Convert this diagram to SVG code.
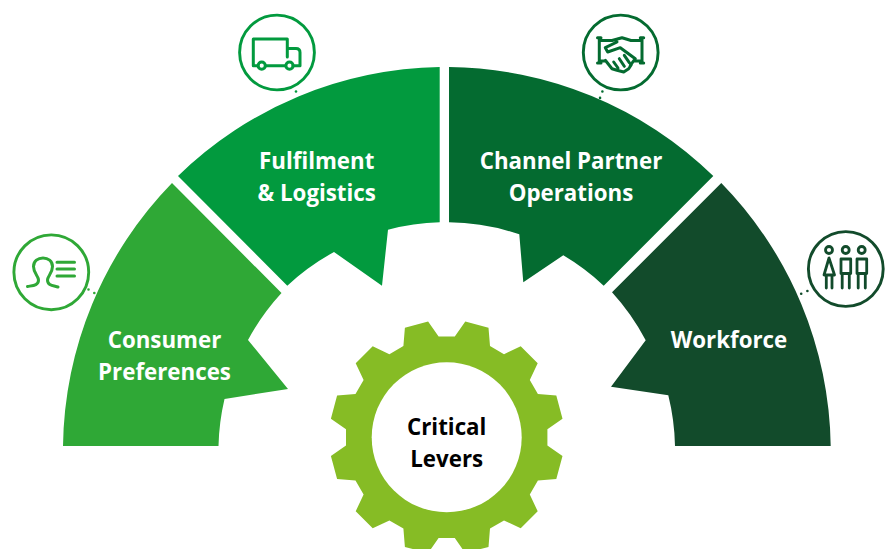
<svg xmlns="http://www.w3.org/2000/svg" width="885" height="549" viewBox="0 0 885 549">
<style>
text{font-family:"Open Sans","Noto Sans","Liberation Sans",sans-serif;font-weight:700;font-size:22.3px;text-anchor:middle;fill:#fff}
.dark{fill:#000}
.ic{fill:none;stroke-width:3;stroke-linecap:round;stroke-linejoin:round}
.ring{fill:#fff;stroke-width:2.9}
.dots{fill:none;stroke-width:2.6;stroke-linecap:round;stroke-dasharray:0 6.8}
.c1{stroke:#2fa836}.c2{stroke:#029a3e}.c3{stroke:#046b30}.c4{stroke:#124b2b}
</style>
<rect width="885" height="549" fill="#fff"/>
<g id="connectors">
<path class="dots c1" d="M88.5,289.5L96,294"/>
<path class="dots c2" d="M296,91.5L296.4,92"/>
<path class="dots c3" d="M602.4,91.5L600,98"/>
<path class="dots c4" d="M807.4,291L800.8,294"/>
</g>
<g id="consumer-preferences">
<path fill="#2fa836" d="M63,446A384,384 0 0 1 172,183L281.5,293A229,229 0 0 0 248,340L288,389L224.5,399A229,229 0 0 0 218.5,446Z"/>
<text x="164.5" y="348.3">Consumer</text>
<text x="164.5" y="380">Preferences</text>
<circle class="ring c1" cx="51.3" cy="272.3" r="37.4"/>
<path class="ic c1" d="M27.5,286.5C33,285.5 38.5,285.5 38.5,280C38.5,276 33.5,273 33.5,266.5C33.5,261 38,258 43,258C48,258 52.5,261 52.5,266.5C52.5,273 47.5,276 47.5,280C47.5,285.5 53,285.5 58,287M57,262.3H74.5M57,269H74.5M57,276H74.5"/>
</g>
<g id="fulfilment-logistics">
<path fill="#029a3e" d="M178,176A384,384 0 0 1 439.7,67V222.3A229,229 0 0 0 388,229.7L382,285.7L334,252A229,229 0 0 0 287.3,285.7Z"/>
<text x="316.7" y="169">Fulfilment</text>
<text x="316.7" y="201">&amp; Logistics</text>
<circle class="ring c2" cx="277" cy="52.5" r="37.4"/>
<path class="ic c2" d="M258,65.7H253.3V39H287.3V57M287.3,48.4H296Q300,48.4 300,52.4V65.7H293M265.5,65.7H285.5"/>
<circle class="ic c2" cx="261.7" cy="65.7" r="3.6"/>
<circle class="ic c2" cx="289.5" cy="65.7" r="3.6"/>
</g>
<g id="channel-partner-operations">
<path fill="#046b30" d="M449,67A384,384 0 0 1 713.3,176L603.7,285.7A229,229 0 0 0 563.3,255.3L523.3,282.3L519.3,234.3A229,229 0 0 0 449,222.3Z"/>
<text x="571" y="169">Channel Partner</text>
<text x="571" y="201">Operations</text>
<circle class="ring c3" cx="620.7" cy="52.5" r="37.4"/>
<path class="ic c3" d="M599.3,37.7V63M642,37.7V63M597.5,37.7H601M597.5,63H601M640.3,37.7H643.7M640.3,63H643.7M599.3,40.5H612L622,37.7L627,39.3L631,40.5H642M599.3,61H605.3M635.3,61H642M605.3,47.7L617,42M605.3,47.7L607.7,52L620.3,47.7L635.3,58.7L630.3,65.3M605.3,60.3L612,68.7L617,70.3L623.7,72L628.7,68.7L631.3,64.7M613.7,62L618,68M619.3,58.7L624.3,66.3M624.3,55.3L629.3,62.7"/>
</g>
<g id="workforce">
<path fill="#124b2b" d="M721.3,183A384,384 0 0 1 830.7,446H675A229,229 0 0 0 668.3,395.3L611,386.7L645.7,340.3A229,229 0 0 0 612,292.3Z"/>
<text x="729" y="348.3">Workforce</text>
<circle class="ring c4" cx="845.8" cy="269" r="37.4"/>
<g class="ic c4" style="stroke-width:2.8">
<circle cx="829" cy="250" r="3.5"/>
<circle cx="845.7" cy="250" r="3.5"/>
<circle cx="861.7" cy="250" r="3.5"/>
<path d="M829,258L824,275H834.5ZM826.3,275V288M832,275V288M841,259H850.7V273.5H841ZM842.2,273.5V288M849.3,273.5V288M857,259H866.7V273.5H857ZM858.2,273.5V288M865.3,273.5V288"/>
</g>
</g>
<g id="critical-levers">
<path fill="#86bc25" transform="translate(446.7 437.3)" d="M8.1,-100.7L18.6,-115.8L41.8,-109.6L43.3,-91.2L57.3,-83.1L74,-91L91,-74L83.1,-57.3L91.2,-43.3L109.6,-41.8L115.8,-18.6L100.7,-8.1V8.1L115.8,18.6L109.6,41.8L91.2,43.3L83.1,57.3L91,74L74,91L57.3,83.1L43.3,91.2L41.8,109.6L18.6,115.8L8.1,100.7H-8.1L-18.6,115.8L-41.8,109.6L-43.3,91.2L-57.3,83.1L-74,91L-91,74L-83.1,57.3L-91.2,43.3L-109.6,41.8L-115.8,18.6L-100.7,8.1V-8.1L-115.8,-18.6L-109.6,-41.8L-91.2,-43.3L-83.1,-57.3L-91,-74L-74,-91L-57.3,-83.1L-43.3,-91.2L-41.8,-109.6L-18.6,-115.8L-8.1,-100.7Z"/>
<circle cx="446.7" cy="437.3" r="75" fill="#fff"/>
<text class="dark" x="446.7" y="435">Critical</text>
<text class="dark" x="446.7" y="467">Levers</text>
</g>
</svg>
